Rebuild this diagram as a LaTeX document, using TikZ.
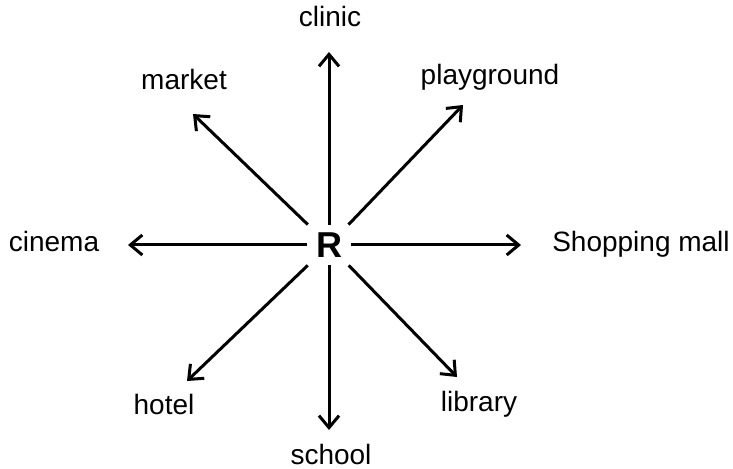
\documentclass[tikz,border=0pt]{standalone}
\usepackage{fontspec}
\setmainfont{Liberation Sans}
\usetikzlibrary{arrows.meta,positioning}

\begin{document}
\begin{tikzpicture}[
    x=0.5pt, y=-0.5pt,
    every node/.style={font=\fontsize{14}{16}\selectfont},
    place/.style={anchor=base, inner sep=0pt},
    centre/.style={font=\fontsize{18}{20}\selectfont\bfseries, minimum width=22pt, minimum height=20pt, inner sep=0pt},
    arrow/.style={-{Straight Barb[length=6pt,width=10pt]}, line width=1.5pt}
]

\useasboundingbox (0,0) rectangle (733,469);

\node[centre] (R) at (329,245) {R};

% places round R
\node[place] (clinic) at (330,27) {clinic};
\node[place] (market) at (184,90) {market};
\node[place] (playground) at (490,85) {playground};
\node[place] (cinema) at (54,252) {cinema};
\node[place] (mall) at (641,252) {Shopping mall};
\node[place] (hotel) at (164,415) {hotel};
\node[place] (school) at (331,465) {school};
\node[place] (library) at (479,412) {library};

% arrow tips
\coordinate (toclinic) at (329,52);
\coordinate (tomarket) at (193,114);
\coordinate (toplayground) at (463,105);
\coordinate (tocinema) at (128,245);
\coordinate (tomall) at (521,245);
\coordinate (tohotel) at (187,381);
\coordinate (toschool) at (329,430);
\coordinate (tolibrary) at (457,377);

\draw[arrow] (R) -- (toclinic);
\draw[arrow] (R) -- (tomarket);
\draw[arrow] (R) -- (toplayground);
\draw[arrow] (R) -- (tocinema);
\draw[arrow] (R) -- (tomall);
\draw[arrow] (R) -- (tohotel);
\draw[arrow] (R) -- (toschool);
\draw[arrow] (R) -- (tolibrary);

\end{tikzpicture}
\end{document}
